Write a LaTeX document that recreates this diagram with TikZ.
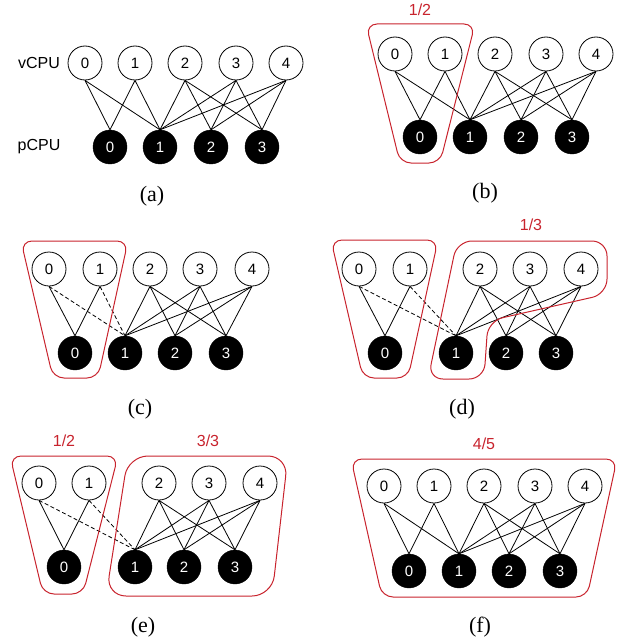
\documentclass[tikz,border=0pt]{standalone}
\usepackage{fontspec}
\setmainfont{Liberation Serif}
\newfontfamily\helv{Liberation Sans}
\definecolor{grp}{RGB}{200,35,45}
\tikzset{
  x=1pt, y=-1pt,
  vc/.style={circle, draw, line width=0.8pt, minimum size=34pt, inner sep=0pt, font=\helv\fontsize{15}{15}\selectfont},
  pc/.style={circle, fill=black, draw=black, minimum size=34pt, inner sep=0pt, text=white, font=\helv\fontsize{15}{15}\selectfont},
  edge/.style={line width=0.8pt},
  weak/.style={line width=0.8pt, dashed, dash pattern=on 4pt off 2.5pt},
  group/.style={draw=grp, line width=1pt, rounded corners=11pt},
  grouplabel/.style={text=grp, font=\helv\fontsize{16}{16}\selectfont},
  rowlabel/.style={font=\helv\fontsize{16}{16}\selectfont},
  caption/.style={font=\fontsize{22}{22}\selectfont},
}
% edges of one panel; #1 = name prefix, #2 = style of the v0/v1 -> p1 links
\newcommand\cpulinks[2]{%
  \draw[edge] (#1v0.south) -- (#1p0.north);
  \draw[edge] (#1v1.south) -- (#1p0.north);
  \draw[#2] (#1v0.south) -- (#1p1.north);
  \draw[#2] (#1v1.south) -- (#1p1.north);
  \foreach \v in {2,3,4}{\foreach \p in {1,2,3}{\draw[edge] (#1v\v.south) -- (#1p\p.north);}}
}
\begin{document}
\begin{tikzpicture}
\useasboundingbox (0,0) rectangle (618,642);

% ---- (a)
\node[rowlabel] (a-vl) at (39,63) {vCPU};
\node[rowlabel] (a-pl) at (39,147) {pCPU};
\foreach \i/\x in {0/85,1/135,2/185,3/236,4/286} \node[vc] (a-v\i) at (\x,63) {\i};
\foreach \i/\x in {0/110,1/160,2/211,3/262} \node[pc] (a-p\i) at (\x,147) {\i};
\cpulinks{a-}{edge}
\node[caption] (a-cap) at (152,196) {(a)};

% ---- (b)
\foreach \i/\x in {0/395,1/445,2/495,3/546,4/596} \node[vc] (b-v\i) at (\x,54) {\i};
\foreach \i/\x in {0/420,1/470,2/521,3/572} \node[pc] (b-p\i) at (\x,137) {\i};
\cpulinks{b-}{edge}
\draw[group] (366,24) -- (475,24) -- (440,163) -- (400,163) -- cycle;
\node[grouplabel] (b-g) at (420,10) {1/2};
\node[caption] (b-cap) at (485,193) {(b)};

% ---- (c)
\foreach \i/\x in {0/49,1/100,2/150,3/200,4/252} \node[vc] (c-v\i) at (\x,269) {\i};
\foreach \i/\x in {0/75,1/125,2/175,3/226} \node[pc] (c-p\i) at (\x,353) {\i};
\cpulinks{c-}{weak}
\draw[group] (21,241) -- (128,241) -- (98,378) -- (53,378) -- cycle;
\node[caption] (c-cap) at (140,409) {(c)};

% ---- (d)
\foreach \i/\x in {0/359,1/410,2/480,3/530,4/581} \node[vc] (d-v\i) at (\x,269) {\i};
\foreach \i/\x in {0/385,1/456,2/506,3/556} \node[pc] (d-p\i) at (\x,353) {\i};
\cpulinks{d-}{weak}
\draw[group] (331,240) -- (438,240) -- (408,378) -- (363,378) -- cycle;
\draw[group, rounded corners=15pt] (457,241) -- (607,241) -- (607,294) -- (488,321) -- (484,379) -- (428,379) -- cycle;
\node[grouplabel] (d-g) at (531,225) {1/3};
\node[caption] (d-cap) at (462,409) {(d)};

% ---- (e)
\foreach \i/\x in {0/39,1/89,2/159,3/209,4/260} \node[vc] (e-v\i) at (\x,483) {\i};
\foreach \i/\x in {0/64,1/135,2/184,3/235} \node[pc] (e-p\i) at (\x,567) {\i};
\cpulinks{e-}{weak}
\draw[group] (10,456) -- (118,456) -- (83,594) -- (43,594) -- cycle;
\draw[group, rounded corners=20pt] (128,456) -- (288,456) -- (272,596) -- (106,596) -- cycle;
\node[grouplabel] (e-g1) at (64,441) {1/2};
\node[grouplabel] (e-g2) at (208,441) {3/3};
\node[caption] (e-cap) at (143,627) {(e)};

% ---- (f)
\foreach \i/\x in {0/384,1/434,2/484,3/535,4/585} \node[vc] (f-v\i) at (\x,486) {\i};
\foreach \i/\x in {0/409,1/459,2/509,3/560} \node[pc] (f-p\i) at (\x,571) {\i};
\cpulinks{f-}{edge}
\draw[group] (351,459) -- (617,459) -- (587,597) -- (382,597) -- cycle;
\node[grouplabel] (f-g) at (484,444) {4/5};
\node[caption] (f-cap) at (480,627) {(f)};
\end{tikzpicture}
\end{document}
